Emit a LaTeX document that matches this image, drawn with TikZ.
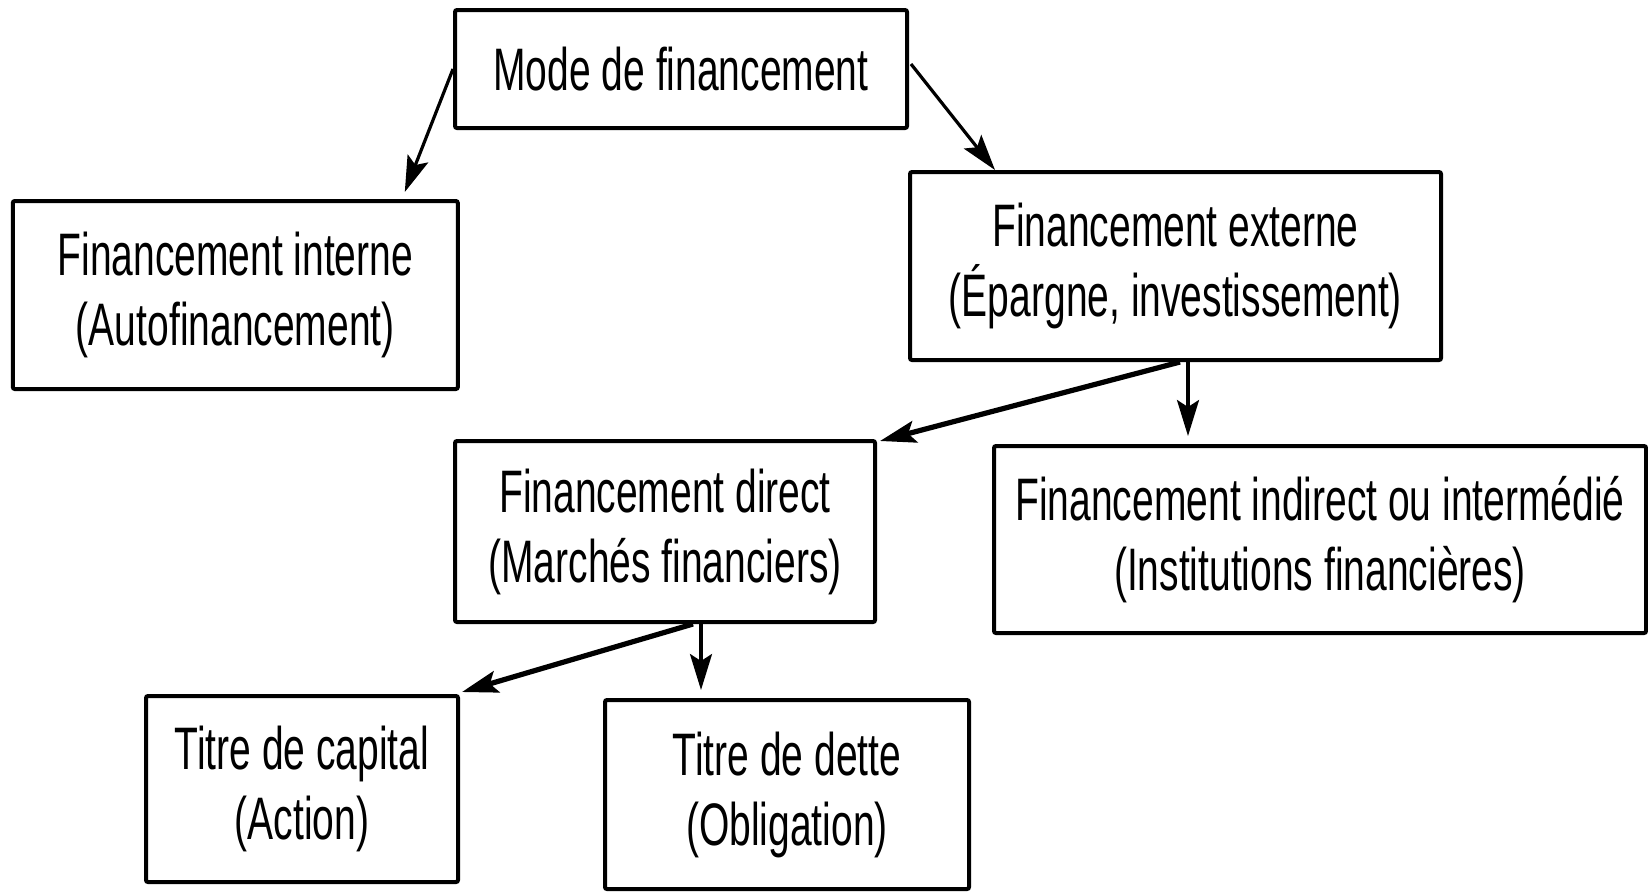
\documentclass[tikz,border=0pt]{standalone}
\usepackage{fontspec}
\setmainfont[FakeStretch=0.65]{Liberation Sans}
\usetikzlibrary{arrows.meta,calc}
\begin{document}
\begin{tikzpicture}[x=0.5pt,y=-0.5pt,
  box/.style={draw=black, line width=2pt, rounded corners=1pt, inner sep=0pt,
    align=center, font=\fontsize{30pt}{35pt}\selectfont},
  arr/.style={line width=1.6pt, -{Stealth[length=18pt,width=11pt,inset=3.5pt]}},
  thickarr/.style={arr, line width=2.6pt}]
\useasboundingbox (0,0) rectangle (1648,891);
\node[box, minimum width=226pt, minimum height=59pt] (mode) at (681,69) {Mode de financement};
\node[box, minimum width=222.5pt, minimum height=94pt] (interne) at (235.3,295) {Financement interne\\(Autofinancement)};
\node[box, minimum width=265.5pt, minimum height=94pt] (externe) at (1175.5,266) {Financement externe\\(Épargne, investissement)};
\node[box, minimum width=210pt, minimum height=90.5pt] (direct) at (665,531.5) {Financement direct\\(Marchés financiers)};
\node[box, minimum width=326pt, minimum height=93.5pt] (indirect) at (1320,539.5) {Financement indirect ou intermédié\\(Institutions financières)};
\node[box, minimum width=156pt, minimum height=93pt] (capital) at (302,789) {Titre de capital\\(Action)};
\node[box, minimum width=182pt, minimum height=94.5pt] (dette) at (787,794.5) {Titre de dette\\(Obligation)};

\coordinate (e1) at ($(externe.south east)+(-255,0)$);
\coordinate (d1) at ($(direct.south west)+(248,0)$);

\draw[arr] (mode.west) -- ($(interne.north east)+(-55,-7)$);
\draw[arr] ($(mode.east)+(2,-5)$) -- ($(externe.north west)+(87,0)$);
\draw[thickarr] ($(externe.south east)+(-263,0)$) -- ($(direct.north east)+(3,2)$);
\draw[arr] (e1) -- ([yshift=4pt]e1 |- indirect.north);
\draw[thickarr] ($(direct.south west)+(240,0)$) -- ($(capital.north east)+(2,-2)$);
\draw[arr] (d1) -- ([yshift=4pt]d1 |- dette.north);
\end{tikzpicture}
\end{document}
